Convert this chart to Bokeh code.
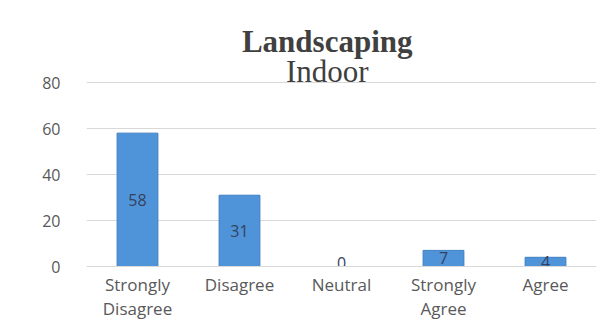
from bokeh.plotting import figure
from bokeh.models import ColumnDataSource, FactorRange, Label
from bokeh.core.properties import value
from bokeh.embed import file_html
from bokeh.resources import INLINE

categories = ["Strongly\nDisagree", "Disagree", "Neutral", "Strongly\nAgree", "Agree"]
counts = [58, 31, 0, 7, 4]
y_ticks = [0, 20, 40, 60, 80]
title_main = "Landscaping"
title_sub = "Indoor"

src = ColumnDataSource(dict(
    cat=categories,
    val=counts,
    mid=[max(v / 2, 1.6) for v in counts],
    lab=[str(v) for v in counts],
))

p = figure(width=603, height=322, x_range=FactorRange(*categories), y_range=(0, 113.5),
           output_backend="svg", toolbar_location=None,
           min_border_left=86, min_border_right=7, min_border_top=5, min_border_bottom=56)
p.outline_line_color = None
p.background_fill_color = "white"
p.border_fill_color = "white"

p.vbar(x="cat", top="val", width=0.4, source=src, fill_color="#4f93d8",
       line_color="#3f7fc4", line_width=1)

p.text(x="cat", y="mid", text="lab", source=src, text_align="center", text_baseline="middle",
       text_font=value("Open Sans"), text_font_size="16px", text_color="#34425e")

p.xgrid.grid_line_color = None
p.ygrid.grid_line_color = "#d9d9d9"
p.ygrid.grid_line_width = 1
p.ygrid.ticker = y_ticks
p.yaxis.ticker = y_ticks

p.yaxis.axis_line_color = None
p.yaxis.major_tick_line_color = None
p.yaxis.minor_tick_line_color = None
p.yaxis.major_tick_out = 0
p.yaxis.major_label_standoff = 26
p.yaxis.major_label_text_font = "Open Sans"
p.yaxis.major_label_text_font_size = "16px"
p.yaxis.major_label_text_color = "#595959"

p.xaxis.axis_line_color = "#d9d9d9"
p.xaxis.major_tick_line_color = None
p.xaxis.minor_tick_line_color = None
p.xaxis.major_tick_out = 0
p.xaxis.major_label_standoff = 6
p.xaxis.major_label_text_font = "Open Sans"
p.xaxis.major_label_text_font_size = "17px"
p.xaxis.major_label_text_line_height = 1.05
p.xaxis.major_label_text_color = "#595959"

p.add_layout(Label(x=2.36, y=97.8, text=title_main, text_align="center", text_baseline="alphabetic",
                   text_font="Liberation Serif", text_font_style="bold", text_font_size="31px",
                   text_color="#404040"))
p.add_layout(Label(x=2.36, y=84.8, text=title_sub, text_align="center", text_baseline="alphabetic",
                   text_font="Liberation Serif", text_font_size="31px", text_color="#404040"))

open("out.html", "w").write(file_html(p, INLINE))
